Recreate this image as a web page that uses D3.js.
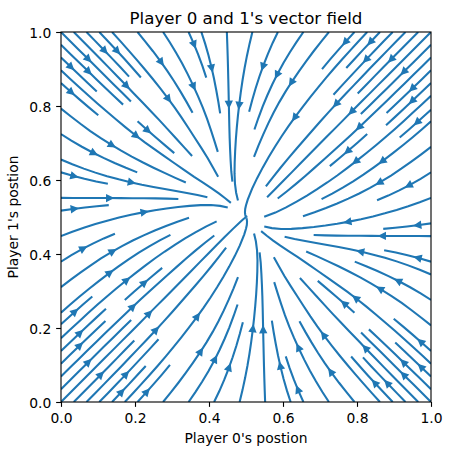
<!DOCTYPE html>
<html>
<head>
<meta charset="utf-8">
<script src="https://cdn.jsdelivr.net/npm/d3@7"></script>
<style>
  body { margin: 0; background: #fff; }
  text { font-family: "DejaVu Sans", sans-serif; fill: #000; }
</style>
</head>
<body>
<svg id="chart" width="451" height="455"></svg>
<script>
// Sample positions of the vector field (data coords)
const gridX = [0, 0.125, 0.25, 0.375, 0.5, 0.625, 0.75, 0.875, 1];
const gridY = [0, 0.125, 0.25, 0.375, 0.5, 0.625, 0.75, 0.875, 1];

// Direction of player 0 (x) and player 1 (y).
// One row per gridY value, bottom row first.
const fieldU = [
  [0.985, 0.954, 0.865, 0.636, 0.187, -0.357, -0.733, -0.905, -0.968],
  [0.985, 0.954, 0.865, 0.636, 0.187, -0.357, -0.733, -0.905, -0.968],
  [0.985, 0.953, 0.863, 0.632, 0.180, -0.363, -0.737, -0.906, -0.969],
  [0.983, 0.950, 0.853, 0.608, 0.143, -0.396, -0.753, -0.913, -0.971],
  [0.978, 0.934, 0.810, 0.510, 0.000, -0.510, -0.810, -0.934, -0.978],
  [0.971, 0.913, 0.753, 0.396, -0.143, -0.608, -0.853, -0.950, -0.983],
  [0.969, 0.906, 0.737, 0.363, -0.180, -0.632, -0.863, -0.953, -0.985],
  [0.968, 0.905, 0.733, 0.357, -0.187, -0.636, -0.865, -0.954, -0.985],
  [0.968, 0.905, 0.733, 0.357, -0.187, -0.636, -0.865, -0.954, -0.985]
];
const fieldV = [
  [0.986, 0.986, 0.986, 0.984, 0.978, 0.969, 0.967, 0.966, 0.966],
  [0.957, 0.957, 0.956, 0.953, 0.934, 0.908, 0.900, 0.898, 0.898],
  [0.874, 0.874, 0.872, 0.861, 0.810, 0.742, 0.721, 0.717, 0.716],
  [0.657, 0.656, 0.652, 0.625, 0.510, 0.373, 0.333, 0.327, 0.325],
  [0.221, 0.220, 0.213, 0.169, 0.000, -0.169, -0.213, -0.220, -0.221],
  [-0.325, -0.327, -0.333, -0.373, -0.510, -0.625, -0.652, -0.656, -0.657],
  [-0.716, -0.717, -0.721, -0.742, -0.810, -0.861, -0.872, -0.874, -0.874],
  [-0.898, -0.898, -0.900, -0.908, -0.934, -0.953, -0.956, -0.957, -0.957],
  [-0.966, -0.966, -0.967, -0.969, -0.978, -0.984, -0.986, -0.986, -0.986]
];

const xTicks = [0, 0.2, 0.4, 0.6, 0.8, 1.0];
const yTicks = [0, 0.2, 0.4, 0.6, 0.8, 1.0];

const titleText = "Player 0 and 1's vector field";
const xLabel = "Player 0's postion";
const yLabel = "Player 1's postion";

const margin = {top: 32, right: 20, bottom: 53, left: 61};
const width = 451, height = 455;
const plotW = 370, plotH = 370;
const lineColor = "#1f77b4";
const lw = 1.5 * 100 / 72;

const x = d3.scaleLinear().domain([0, 1]).range([margin.left, margin.left + plotW]);
const y = d3.scaleLinear().domain([0, 1]).range([margin.top + plotH, margin.top]);

/*
 * Streamline tracing, same steps as matplotlib's streamplot (density 1)
 */
const nx = gridX.length, ny = gridY.length;
const gdx = gridX[1] - gridX[0], gdy = gridY[1] - gridY[0];
const ug = fieldU.map(r => r.map(a => a / gdx));
const vg = fieldV.map(r => r.map(a => a / gdy));
const spd = ug.map((r, j) => r.map((a, i) => Math.hypot(a / (nx - 1), vg[j][i] / (ny - 1))));

const MN = 30;
const mask = Array.from({length: MN}, () => new Array(MN).fill(0));
const g2mx = (MN - 1) / (nx - 1), g2my = (MN - 1) / (ny - 1);
let curTraj = [];
let curXY = null;

class OutOfBounds {}
class Terminate {}
class InvalidIndex {}

const withinGrid = (xi, yi) => xi >= 0 && xi <= nx - 1 && yi >= 0 && yi <= ny - 1;

function interp(a, xi, yi) {
  const xx = Math.floor(xi), yy = Math.floor(yi);
  const xn = xx === nx - 1 ? xx : xx + 1;
  const yn = yy === ny - 1 ? yy : yy + 1;
  const xt = xi - xx, yt = yi - yy;
  const a0 = a[yy][xx] * (1 - xt) + a[yy][xn] * xt;
  const a1 = a[yn][xx] * (1 - xt) + a[yn][xn] * xt;
  return a0 * (1 - yt) + a1 * yt;
}

function maskUpdate(xm, ym) {
  if (curXY && curXY[0] === xm && curXY[1] === ym) return;
  if (mask[ym][xm] === 0) {
    curTraj.push([ym, xm]);
    mask[ym][xm] = 1;
    curXY = [xm, ym];
  } else {
    throw new InvalidIndex();
  }
}

function updateTrajectory(xg, yg) {
  if (!withinGrid(xg, yg)) throw new InvalidIndex();
  maskUpdate(Math.round(xg * g2mx), Math.round(yg * g2my));
}

function forwardTime(xi, yi) {
  if (!withinGrid(xi, yi)) throw new OutOfBounds();
  const s = interp(spd, xi, yi);
  if (s === 0) throw new Terminate();
  return [interp(ug, xi, yi) / s, interp(vg, xi, yi) / s];
}
function backwardTime(xi, yi) {
  const d = forwardTime(xi, yi);
  return [-d[0], -d[1]];
}

function eulerStep(traj, f) {
  const [xi, yi] = traj[traj.length - 1];
  const [cx, cy] = f(xi, yi);
  let dsx, dsy;
  if (cx === 0) dsx = Infinity;
  else if (cx < 0) dsx = xi / -cx;
  else dsx = (nx - 1 - xi) / cx;
  if (cy === 0) dsy = Infinity;
  else if (cy < 0) dsy = yi / -cy;
  else dsy = (ny - 1 - yi) / cy;
  const ds = Math.min(dsx, dsy);
  traj.push([xi + cx * ds, yi + cy * ds]);
  return ds;
}

function rk12(x0, y0, f, maxlength) {
  const maxerror = 0.003;
  const maxds = Math.min(1 / MN, 1 / MN, 0.1);
  let ds = maxds, stotal = 0, xi = x0, yi = y0;
  const traj = [];
  while (true) {
    let k1, k2;
    try {
      if (withinGrid(xi, yi)) traj.push([xi, yi]);
      else throw new OutOfBounds();
      k1 = f(xi, yi);
      k2 = f(xi + ds * k1[0], yi + ds * k1[1]);
    } catch (e) {
      if (e instanceof OutOfBounds && traj.length) {
        try { stotal += eulerStep(traj, f); } catch (e2) {}
      }
      break;
    }
    const dx1 = ds * k1[0], dy1 = ds * k1[1];
    const dx2 = ds * 0.5 * (k1[0] + k2[0]), dy2 = ds * 0.5 * (k1[1] + k2[1]);
    const err = Math.hypot((dx2 - dx1) / (nx - 1), (dy2 - dy1) / (ny - 1));
    if (err < maxerror) {
      xi += dx2; yi += dy2;
      try { updateTrajectory(xi, yi); } catch (e) { break; }
      if (stotal + ds > maxlength) break;
      stotal += ds;
    }
    ds = err === 0 ? maxds : Math.min(maxds, 0.85 * ds * Math.sqrt(maxerror / err));
  }
  return {s: stotal, traj};
}

function integrate(x0, y0) {
  const minlength = 0.1, maxlength = 4.0;
  curTraj = [];
  try {
    maskUpdate(Math.round(x0 * g2mx), Math.round(y0 * g2my));
  } catch (e) { return null; }
  let stotal = 0;
  const b = rk12(x0, y0, backwardTime, maxlength);
  stotal += b.s;
  let pts = b.traj.slice().reverse();
  curXY = [Math.round(x0 * g2mx), Math.round(y0 * g2my)];
  const fw = rk12(x0, y0, forwardTime, maxlength);
  stotal += fw.s;
  pts = pts.concat(fw.traj.slice(1));
  if (stotal > minlength) return pts;
  curTraj.forEach(([r, c]) => { mask[r][c] = 0; });
  return null;
}

function* startingPoints() {
  let xfirst = 0, yfirst = 1, xlast = MN - 1, ylast = MN - 1;
  let xm = 0, ym = 0, dir = "right";
  for (let i = 0; i < MN * MN; i++) {
    yield [xm, ym];
    if (dir === "right") {
      xm += 1;
      if (xm >= xlast) { xlast -= 1; dir = "up"; }
    } else if (dir === "up") {
      ym += 1;
      if (ym >= ylast) { ylast -= 1; dir = "left"; }
    } else if (dir === "left") {
      xm -= 1;
      if (xm <= xfirst) { xfirst += 1; dir = "down"; }
    } else {
      ym -= 1;
      if (ym <= yfirst) { yfirst += 1; dir = "right"; }
    }
  }
}

const streams = [];
for (const [xm, ym] of startingPoints()) {
  if (mask[ym][xm] === 0) {
    const t = integrate(xm / g2mx, ym / g2my);
    if (t) streams.push(t.map(([gx, gy]) => [gridX[0] + gx * gdx, gridY[0] + gy * gdy]));
  }
}

/*
 * Drawing
 */
const svg = d3.select("#chart");
svg.append("rect").attr("width", width).attr("height", height).attr("fill", "#fff");

svg.append("defs").append("clipPath").attr("id", "plotclip")
  .append("rect")
    .attr("x", margin.left).attr("y", margin.top)
    .attr("width", plotW).attr("height", plotH);

const plot = svg.append("g").attr("clip-path", "url(#plotclip)");

const line = d3.line().x(d => x(d[0])).y(d => y(d[1]));

plot.selectAll("path.stream")
  .data(streams)
  .enter()
  .append("path")
    .attr("class", "stream")
    .attr("d", line)
    .attr("fill", "none")
    .attr("stroke", lineColor)
    .attr("stroke-width", lw);

// arrow heads halfway along each streamline
const headLen = 4 * 100 / 72;
const cosT = Math.cos(Math.atan(0.5)), sinT = Math.sin(Math.atan(0.5));
const arrows = streams.map(pts => {
  const px = pts.map(p => x(p[0])), py = pts.map(p => y(p[1]));
  const cum = [];
  let acc = 0;
  for (let i = 1; i < pts.length; i++) {
    acc += Math.hypot(pts[i][0] - pts[i - 1][0], pts[i][1] - pts[i - 1][1]);
    cum.push(acc);
  }
  let n = d3.bisectLeft(cum, acc / 2);
  const tail = [px[n], py[n]];
  const head = [(px[n] + px[Math.min(n + 1, px.length - 1)]) / 2,
                (py[n] + py[Math.min(n + 1, py.length - 1)]) / 2];
  let ddx = head[0] - tail[0], ddy = head[1] - tail[1];
  let k = n + 1;
  while (Math.hypot(ddx, ddy) < 1e-9 && k < px.length) {
    ddx = px[k] - tail[0]; ddy = py[k] - tail[1]; k++;
  }
  const len = Math.hypot(ddx, ddy) || 1;
  const ux = ddx / len, uy = ddy / len;
  const pad = 0.5 * lw / sinT;
  const tip = [head[0] - ux * pad, head[1] - uy * pad];
  const bx = -ux * headLen, by = -uy * headLen;
  const p1 = [tip[0] + cosT * bx + sinT * by, tip[1] - sinT * bx + cosT * by];
  const p2 = [tip[0] + cosT * bx - sinT * by, tip[1] + sinT * bx + cosT * by];
  return [p1, tip, p2];
});

plot.selectAll("path.arrow")
  .data(arrows)
  .enter()
  .append("path")
    .attr("class", "arrow")
    .attr("d", d => "M" + d.map(p => p.join(",")).join("L") + "Z")
    .attr("fill", lineColor)
    .attr("stroke", lineColor)
    .attr("stroke-width", lw)
    .attr("stroke-linejoin", "miter");

// axes
const tickLen = 3.5 * 100 / 72;
const fontPx = 10 * 100 / 72;

const xAxis = svg.append("g")
  .attr("transform", `translate(0,${margin.top + plotH})`)
  .call(d3.axisBottom(x).tickValues(xTicks).tickFormat(d3.format(".1f"))
        .tickSize(tickLen).tickPadding(tickLen));
const yAxis = svg.append("g")
  .attr("transform", `translate(${margin.left},0)`)
  .call(d3.axisLeft(y).tickValues(yTicks).tickFormat(d3.format(".1f"))
        .tickSize(tickLen).tickPadding(tickLen));

[xAxis, yAxis].forEach(g => {
  g.select(".domain").remove();
  g.selectAll(".tick line").attr("stroke", "#000").attr("stroke-width", 0.8 * 100 / 72);
  g.selectAll(".tick text")
    .style("font-family", '"DejaVu Sans", sans-serif')
    .style("font-size", fontPx + "px")
    .attr("fill", "#000");
});
xAxis.selectAll(".tick text").attr("y", 0).attr("dy", 0).attr("transform", "translate(0,21.3)");
yAxis.selectAll(".tick text").attr("dy", "0.36em");

svg.append("rect")
  .attr("x", margin.left).attr("y", margin.top)
  .attr("width", plotW).attr("height", plotH)
  .attr("fill", "none")
  .attr("stroke", "#000")
  .attr("stroke-width", 0.8 * 100 / 72);

svg.append("text")
  .attr("x", margin.left + plotW / 2)
  .attr("y", 23.9)
  .attr("text-anchor", "middle")
  .style("font-size", (12 * 100 / 72) + "px")
  .text(titleText);

svg.append("text")
  .attr("x", margin.left + plotW / 2)
  .attr("y", 443.3)
  .attr("text-anchor", "middle")
  .style("font-size", fontPx + "px")
  .text(xLabel);

svg.append("text")
  .attr("transform", `translate(18.3,${margin.top + plotH / 2}) rotate(-90)`)
  .attr("text-anchor", "middle")
  .style("font-size", fontPx + "px")
  .text(yLabel);
</script>
</body>
</html>
